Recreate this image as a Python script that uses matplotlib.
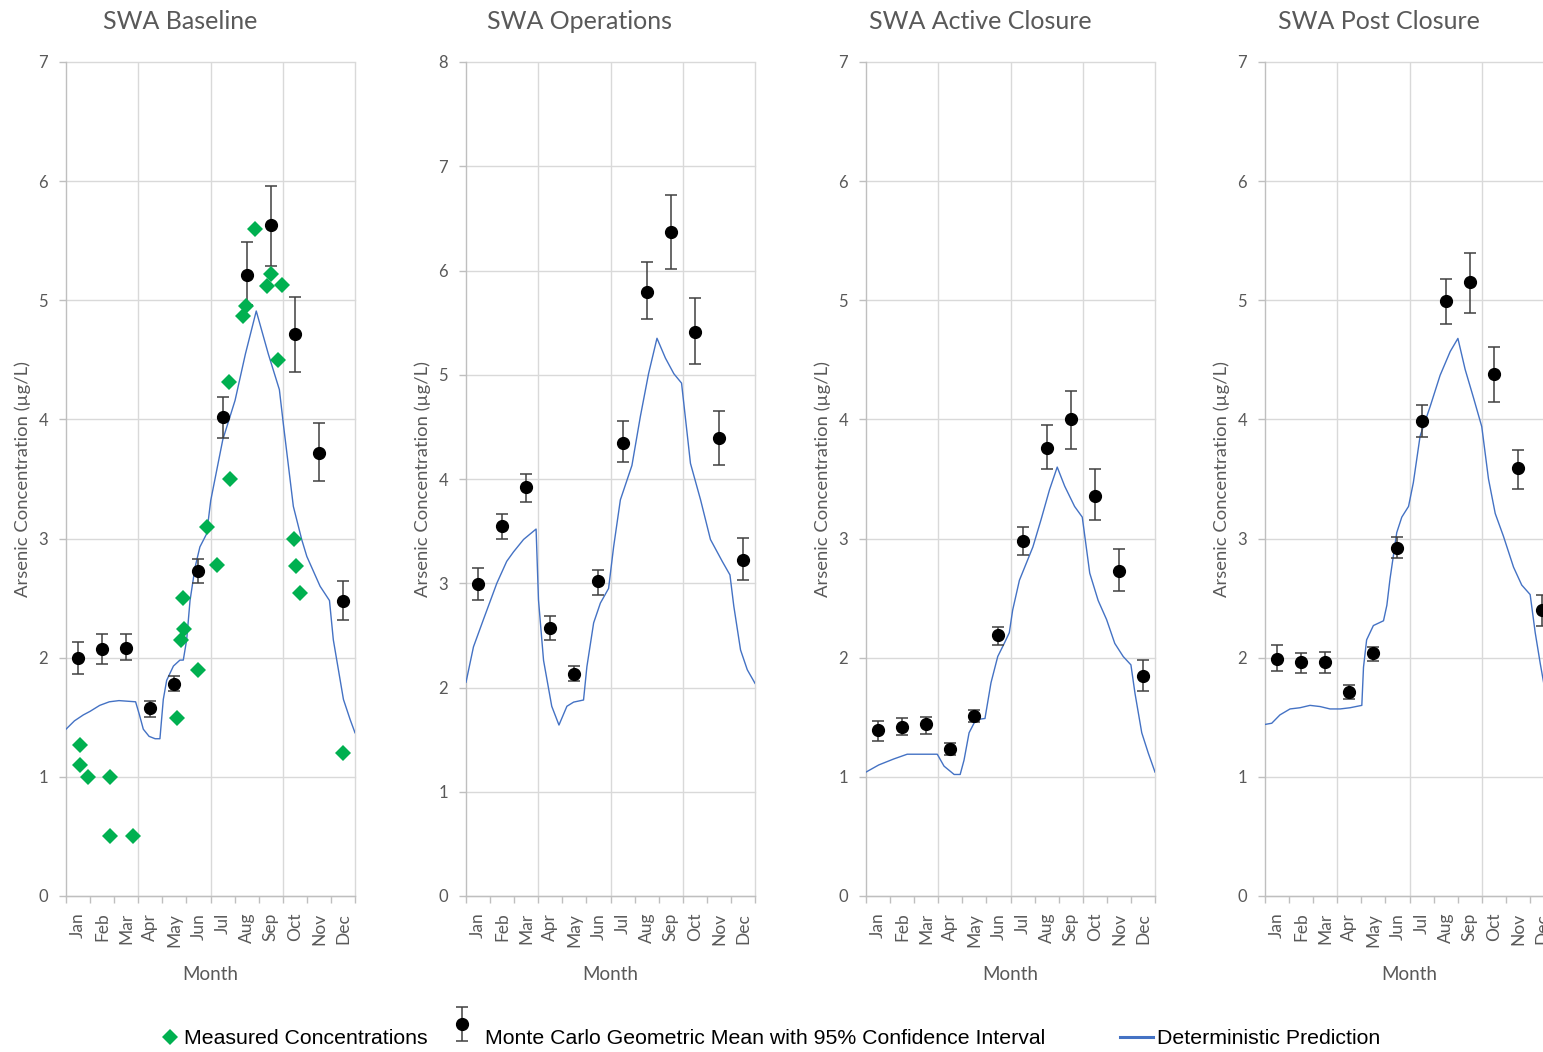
import numpy as np
import matplotlib.pyplot as plt
from matplotlib.lines import Line2D
from matplotlib.legend_handler import HandlerErrorbar
from matplotlib.transforms import Affine2D

plt.rcParams['font.family'] = ['Lato', 'DejaVu Sans']

months = ['Jan', 'Feb', 'Mar', 'Apr', 'May', 'Jun',
          'Jul', 'Aug', 'Sep', 'Oct', 'Nov', 'Dec']
month_mid = np.arange(12) + 0.5

titles = ['SWA Baseline', 'SWA Operations', 'SWA Active Closure', 'SWA Post Closure']
y_tops = [7, 8, 7, 7]

# measured concentrations (baseline only), x in months from 1 Jan
meas_month = [0.57, 0.57, 0.90, 1.84, 1.84, 2.77, 4.60, 4.76, 4.91, 4.84, 5.50, 5.87, 6.27,
              6.81, 6.77, 7.34, 7.48, 7.86, 8.36, 8.50, 8.96, 8.82, 9.45, 9.55, 9.70, 11.50]
meas_conc = [1.27, 1.10, 1.00, 1.00, 0.50, 0.50, 1.49, 2.15, 2.24, 2.50, 1.90, 3.10, 2.78,
             3.50, 4.31, 4.87, 4.95, 5.60, 5.12, 5.22, 5.13, 4.50, 3.00, 2.77, 2.54, 1.20]

# Monte Carlo geometric means and 95% CI bounds, one value per month
base_gm = [2.00, 2.07, 2.08, 1.58, 1.78, 2.73, 4.02, 5.21, 5.63, 4.72, 3.72, 2.48]
base_lo = [1.86, 1.95, 1.98, 1.50, 1.72, 2.63, 3.84, 4.96, 5.29, 4.40, 3.48, 2.32]
base_hi = [2.13, 2.20, 2.20, 1.64, 1.85, 2.83, 4.19, 5.49, 5.96, 5.03, 3.97, 2.64]

ops_gm = [2.99, 3.55, 3.92, 2.57, 2.13, 3.02, 4.35, 5.79, 6.37, 5.41, 4.39, 3.22]
ops_lo = [2.84, 3.42, 3.78, 2.46, 2.06, 2.89, 4.16, 5.53, 6.01, 5.10, 4.13, 3.03]
ops_hi = [3.15, 3.66, 4.05, 2.69, 2.21, 3.13, 4.56, 6.08, 6.72, 5.74, 4.65, 3.43]

act_gm = [1.39, 1.42, 1.44, 1.23, 1.51, 2.19, 2.98, 3.76, 4.00, 3.36, 2.73, 1.85]
act_lo = [1.30, 1.35, 1.36, 1.18, 1.46, 2.11, 2.86, 3.58, 3.75, 3.16, 2.56, 1.72]
act_hi = [1.47, 1.49, 1.50, 1.28, 1.56, 2.26, 3.10, 3.95, 4.24, 3.58, 2.91, 1.98]

post_gm = [1.99, 1.96, 1.96, 1.71, 2.04, 2.92, 3.99, 4.99, 5.15, 4.38, 3.59, 2.40]
post_lo = [1.89, 1.87, 1.87, 1.65, 1.97, 2.84, 3.85, 4.80, 4.89, 4.15, 3.42, 2.27]
post_hi = [2.11, 2.04, 2.05, 1.77, 2.09, 3.01, 4.12, 5.18, 5.40, 4.61, 3.74, 2.53]

# deterministic model prediction
base_det_x = [0, 0.35, 0.72, 1.0, 1.4, 1.8, 2.2, 2.89, 3.05, 3.21, 3.45, 3.70, 3.90, 4.04,
              4.18, 4.46, 4.73, 4.87, 5.01, 5.15, 5.36, 5.56, 5.84, 6.01, 6.51, 7.02, 7.45,
              7.90, 8.4, 8.86, 9.02, 9.44, 9.79, 10.0, 10.55, 10.94, 11.1, 11.52, 11.8, 12.0]
base_det_y = [1.40, 1.47, 1.52, 1.55, 1.60, 1.63, 1.64, 1.63, 1.52, 1.40, 1.34, 1.32, 1.32,
              1.65, 1.81, 1.93, 1.98, 1.98, 2.15, 2.48, 2.76, 2.93, 3.04, 3.32, 3.83, 4.16,
              4.55, 4.91, 4.55, 4.25, 3.97, 3.27, 2.99, 2.85, 2.60, 2.48, 2.15, 1.65, 1.48, 1.37]

ops_det_x = [0, 0.31, 0.72, 1.28, 1.69, 1.97, 2.39, 2.91, 3.01, 3.22, 3.56, 3.86, 4.19, 4.47,
             4.88, 5.02, 5.30, 5.58, 5.92, 6.13, 6.41, 6.89, 7.24, 7.58, 7.93, 8.28, 8.63,
             8.95, 9.32, 9.74, 10.15, 10.64, 10.96, 11.12, 11.40, 11.68, 12.0]
ops_det_y = [2.05, 2.39, 2.65, 3.00, 3.21, 3.30, 3.42, 3.52, 2.84, 2.26, 1.82, 1.64, 1.82,
             1.86, 1.88, 2.20, 2.62, 2.81, 2.95, 3.35, 3.80, 4.13, 4.60, 5.01, 5.35, 5.16,
             5.01, 4.92, 4.15, 3.80, 3.42, 3.21, 3.08, 2.78, 2.36, 2.17, 2.04]

act_det_x = [0, 0.53, 1.15, 1.71, 2.96, 3.24, 3.66, 3.91, 4.07, 4.28, 4.56, 4.94, 5.19, 5.47,
             5.74, 5.95, 6.09, 6.37, 6.93, 7.27, 7.62, 7.94, 8.25, 8.66, 8.98, 9.29, 9.64,
             9.99, 10.33, 10.68, 11.0, 11.17, 11.45, 11.72, 12.0]
act_det_y = [1.04, 1.10, 1.15, 1.19, 1.19, 1.09, 1.02, 1.02, 1.14, 1.37, 1.48, 1.49, 1.79,
             2.01, 2.12, 2.21, 2.40, 2.65, 2.93, 3.16, 3.41, 3.60, 3.44, 3.27, 3.18, 2.71,
             2.48, 2.32, 2.12, 2.01, 1.94, 1.70, 1.37, 1.20, 1.04]

post_det_x = [0, 0.28, 0.62, 1.04, 1.45, 1.87, 2.29, 2.70, 3.12, 3.53, 4.02, 4.09, 4.22, 4.50,
              4.92, 5.06, 5.19, 5.47, 5.68, 5.96, 6.16, 6.44, 6.86, 7.27, 7.69, 8.01, 8.31,
              8.66, 9.0, 9.28, 9.56, 9.90, 10.32, 10.66, 11.01, 11.22, 11.43, 11.57, 11.8, 12.0]
post_det_y = [1.44, 1.45, 1.52, 1.57, 1.58, 1.60, 1.59, 1.57, 1.57, 1.58, 1.60, 1.92, 2.15,
              2.27, 2.31, 2.44, 2.66, 3.05, 3.18, 3.27, 3.47, 3.86, 4.11, 4.37, 4.57, 4.68,
              4.42, 4.18, 3.94, 3.50, 3.21, 3.02, 2.76, 2.61, 2.53, 2.21, 1.95, 1.79, 1.60, 1.45]

panels = [
    (base_gm, base_lo, base_hi, base_det_x, base_det_y),
    (ops_gm, ops_lo, ops_hi, ops_det_x, ops_det_y),
    (act_gm, act_lo, act_hi, act_det_x, act_det_y),
    (post_gm, post_lo, post_hi, post_det_x, post_det_y),
]

GREEN = '#00B050'
BLUE = '#4472C4'
TXT = '#595959'
AXC = '#BFBFBF'
GRID = '#D9D9D9'


class RaisedErrorbar(HandlerErrorbar):
    # errorbar legend key sits a little above the text line
    def create_artists(self, legend, orig_handle, xdescent, ydescent,
                       width, height, fontsize, trans):
        trans = trans + Affine2D().translate(0, 13)
        return super().create_artists(legend, orig_handle, xdescent, ydescent,
                                      width, height, fontsize, trans)


fig = plt.figure(figsize=(15.43, 10.52), dpi=100)

lefts = [66, 466, 866, 1265]
W, H = 1543.0, 1052.0
ax_w = 289 / W
ax_b = 1 - 896 / H
ax_h = (896 - 62) / H

eb_handle = None
for i, (gm, lo, hi, dx, dy) in enumerate(panels):
    ax = fig.add_axes([lefts[i] / W, ax_b, ax_w, ax_h])
    gm = np.array(gm)
    yerr = [gm - np.array(lo), np.array(hi) - gm]

    ax.plot(dx, dy, color=BLUE, lw=1.0, zorder=3)
    eb = ax.errorbar(month_mid, gm, yerr=yerr, fmt='o', color='black', markersize=8.5,
                     ecolor='#404040', elinewidth=1.1, capsize=4, capthick=1.1, zorder=4)
    if eb_handle is None:
        eb_handle = eb
    if i == 0:
        ax.plot(meas_month, meas_conc, linestyle='none', marker='D', color=GREEN,
                markersize=8.5, markeredgewidth=0, zorder=5)

    ax.set_xlim(0, 12)
    ax.set_ylim(0, y_tops[i])

    # month labels sit between the monthly tick marks
    ax.set_xticks(month_mid)
    ax.set_xticklabels(months, rotation=90, fontsize=12.5, color=TXT)
    ax.tick_params(axis='x', which='major', length=0, pad=12)
    ax.set_xticks(np.arange(13), minor=True)
    ax.tick_params(axis='x', which='minor', length=5, color=AXC, width=1)

    ax.set_yticks(np.arange(y_tops[i] + 1))
    ax.tick_params(axis='y', length=5, color=AXC, width=1, labelsize=12,
                   labelcolor=TXT, pad=8)

    ax.grid(axis='y', color=GRID, lw=1, zorder=0)
    for gl in ax.get_ygridlines():
        gl.set_clip_on(False)
    ax.vlines([3, 6, 9, 12], 0, 1, transform=ax.get_xaxis_transform(),
              color=GRID, lw=1, zorder=0, clip_on=False)
    ax.set_axisbelow(True)

    for s in ['top', 'right']:
        ax.spines[s].set_visible(False)
    for s in ['left', 'bottom']:
        ax.spines[s].set_color(AXC)
        ax.spines[s].set_linewidth(1)

    ax.set_xlabel('Month', fontsize=13.5, color=TXT, labelpad=14)
    ax.set_ylabel('Arsenic Concentration (µg/L)', fontsize=13.3, color=TXT, labelpad=5)
    ax.set_title(titles[i], x=0.394, pad=24, fontsize=18, color=TXT)

# legend row along the bottom
leg_font = {'family': 'Liberation Sans', 'size': 15.3}
diamond = Line2D([], [], marker='D', color=GREEN, linestyle='none', markersize=8.5,
                 markeredgewidth=0)
det_line = Line2D([], [], color=BLUE, lw=2.2)

y_leg = 1 - 1039 / H
fig.legend([diamond], ['Measured Concentrations'], loc='center left',
           bbox_to_anchor=(161 / W, y_leg), frameon=False, prop=leg_font,
           handlelength=0.8, handletextpad=0.3, borderpad=0, borderaxespad=0)
fig.legend([eb_handle], ['Monte Carlo Geometric Mean with 95% Confidence Interval'],
           loc='center left', bbox_to_anchor=(451 / W, y_leg), frameon=False, prop=leg_font,
           handlelength=1.0, handletextpad=0.6, borderpad=0, borderaxespad=0,
           handler_map={type(eb_handle): RaisedErrorbar(yerr_size=0.8)})
fig.legend([det_line], ['Deterministic Prediction'], loc='center left',
           bbox_to_anchor=(1120 / W, y_leg), frameon=False, prop=leg_font,
           handlelength=1.55, handletextpad=0.2, borderpad=0, borderaxespad=0)

fig.savefig('out.png', dpi=100)
